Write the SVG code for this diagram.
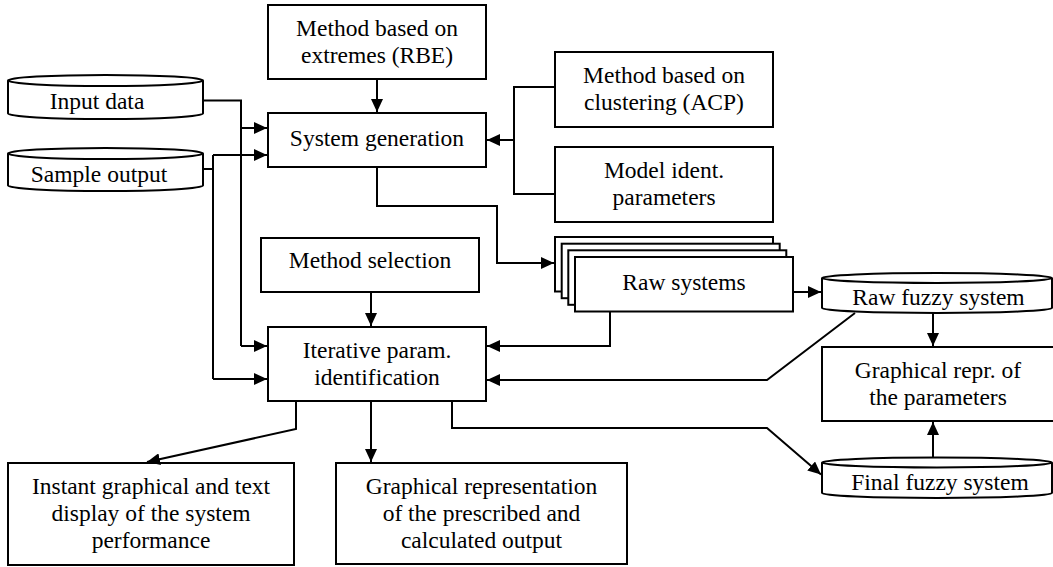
<svg xmlns="http://www.w3.org/2000/svg" width="1053" height="567" viewBox="0 0 1053 567">
<style>
.box{fill:#fff;stroke:#000;stroke-width:2}
.cyl{fill:#fff;stroke:#000;stroke-width:2}
.ln{fill:none;stroke:#000;stroke-width:2}
.arr{fill:none;stroke:#000;stroke-width:2;marker-end:url(#ah)}
text{font-size:23.5px;fill:#000;text-anchor:middle}
</style>
<defs>
<marker id="ah" viewBox="0 0 13 12" refX="13" refY="6" markerWidth="13" markerHeight="12" markerUnits="userSpaceOnUse" orient="auto">
<path d="M0,0 L13,6 L0,12 z" fill="#000"/>
</marker>
</defs>
<rect width="1053" height="567" fill="#fff"/>
<g font-family="Liberation Serif, DejaVu Serif, serif">

<g id="rbe">
<rect class="box" x="268" y="5" width="218" height="74"/>
<text x="377" y="36">Method based on</text>
<text x="377" y="63">extremes (RBE)</text>
</g>

<g id="sysgen">
<rect class="box" x="268" y="113" width="218" height="54"/>
<text x="377" y="146">System generation</text>
</g>

<g id="input">
<path class="cyl" d="M8,80.5 V113.5 A97.5,5.5 0 0 0 203,113.5 V80.5"/>
<ellipse class="cyl" cx="105.5" cy="80.5" rx="97.5" ry="5.5"/>
<text x="97" y="109">Input data</text>
</g>

<g id="sample">
<path class="cyl" d="M8,153.5 V185.5 A97.5,5.5 0 0 0 203,185.5 V153.5"/>
<ellipse class="cyl" cx="105.5" cy="153.5" rx="97.5" ry="5.5"/>
<text x="99" y="182">Sample output</text>
</g>

<g id="acp">
<rect class="box" x="555" y="52" width="218" height="75"/>
<text x="664" y="83">Method based on</text>
<text x="664" y="110">clustering (ACP)</text>
</g>

<g id="modelparams">
<rect class="box" x="555" y="147" width="218" height="75"/>
<text x="664" y="178">Model ident.</text>
<text x="664" y="205">parameters</text>
</g>

<g id="methodsel">
<rect class="box" x="261" y="238" width="218" height="54"/>
<text x="370" y="268">Method selection</text>
</g>

<g id="iterative">
<rect class="box" x="268" y="327" width="218" height="74"/>
<text x="377" y="358">Iterative param.</text>
<text x="377" y="385">identification</text>
</g>

<g id="rawsystems">
<rect class="box" x="555" y="237" width="218" height="54.5"/>
<rect class="box" x="561.7" y="243.7" width="218" height="54.5"/>
<rect class="box" x="568.3" y="250.3" width="218" height="54.5"/>
<rect class="box" x="575" y="257" width="218" height="54.5"/>
<text x="684" y="289.5">Raw systems</text>
</g>

<g id="rawfuzzy">
<path class="cyl" d="M822,278 V308 A115,5 0 0 0 1052,308 V278"/>
<ellipse class="cyl" cx="937" cy="278" rx="115" ry="5"/>
<text x="938.5" y="305">Raw fuzzy system</text>
</g>

<g id="graphparams">
<rect class="box" x="822" y="347" width="232" height="74"/>
<text x="938" y="378">Graphical repr. of</text>
<text x="938" y="405">the parameters</text>
</g>

<g id="finalfuzzy">
<path class="cyl" d="M822,462.5 V493 A115,5 0 0 0 1052,493 V462.5"/>
<ellipse class="cyl" cx="937" cy="462.5" rx="115" ry="5"/>
<text x="940" y="490">Final fuzzy system</text>
</g>

<g id="instant">
<rect class="box" x="8" y="463" width="286" height="102"/>
<text x="151" y="494">Instant graphical and text</text>
<text x="151" y="521">display of the system</text>
<text x="151" y="548">performance</text>
</g>

<g id="graphoutput">
<rect class="box" x="336" y="463" width="291" height="101"/>
<text x="481.5" y="494">Graphical representation</text>
<text x="481.5" y="521">of the prescribed and</text>
<text x="481.5" y="548">calculated output</text>
</g>
</g>

<g id="connectors">
<path class="ln" d="M203,100.5 H241 V346"/>
<path class="arr" d="M241,128 H267"/>
<path class="arr" d="M241,346 H267"/>
<path class="ln" d="M203,169 H213 M213,155 V379"/>
<path class="arr" d="M213,155 H267"/>
<path class="arr" d="M213,379 H267"/>
<path class="arr" d="M377,79 V112"/>
<path class="ln" d="M555,87 H514 V194 H555"/>
<path class="arr" d="M514,140 H487"/>
<path class="arr" d="M377,167 V206 H497 V263 H554"/>
<path class="arr" d="M371,292 V326"/>
<path class="arr" d="M610,311.5 V346 H487"/>
<path class="arr" d="M793,292 H821"/>
<path class="arr" d="M855,313 L767,380 H487"/>
<path class="arr" d="M933,313 V346"/>
<path class="arr" d="M933,457.5 V422"/>
<path class="arr" d="M452,401 V428 H767 L821,474.5"/>
<path class="arr" d="M296,401 V429 L147,462"/>
<path class="arr" d="M371,401 V462"/>
</g>
</svg>
